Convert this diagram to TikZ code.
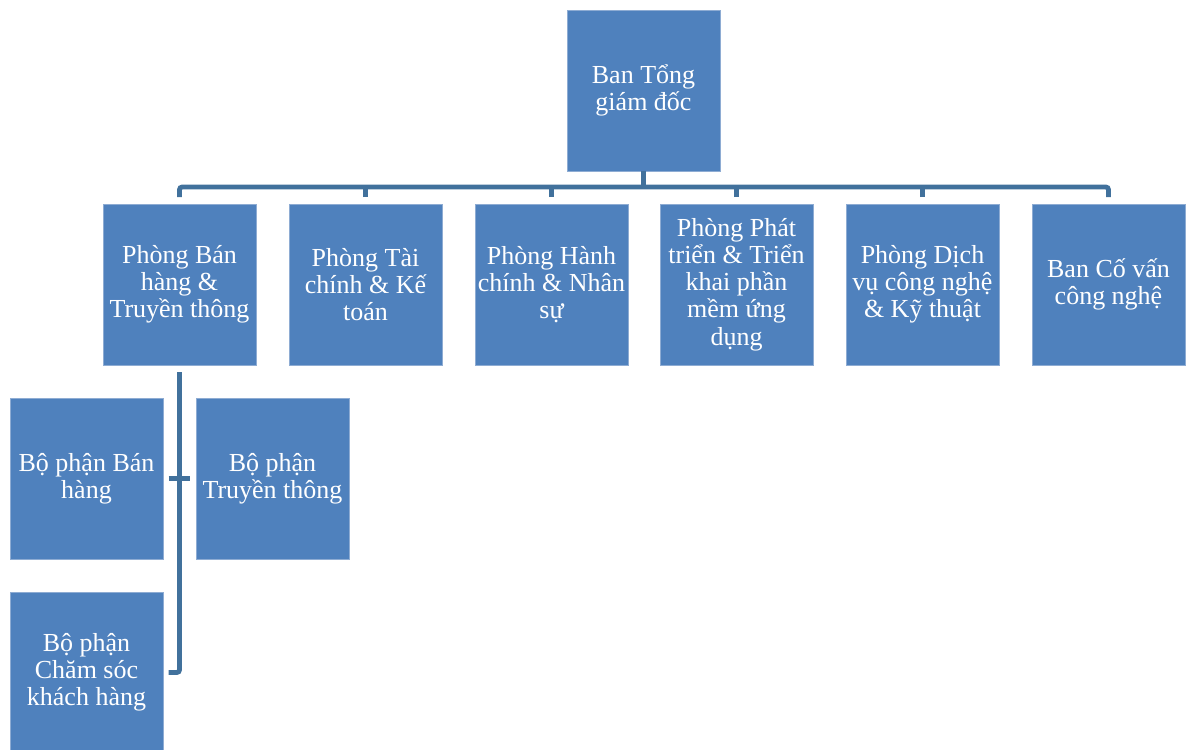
\documentclass[tikz,border=0pt]{standalone}
\usepackage{fontspec}
\setmainfont{Liberation Serif}
\usetikzlibrary{positioning, calc}
\definecolor{BoxFill}{HTML}{4F81BD}
\definecolor{BoxLine}{HTML}{8EACD3}
\definecolor{Link}{HTML}{41719C}
\tikzset{
    orgbox/.style={rectangle, fill=BoxFill, draw=BoxLine, line width=0.5pt, text=white, align=center,
        minimum width=114.75pt, minimum height=120.75pt, inner sep=0pt, font=\fontsize{19.5}{20.4}\selectfont},
    link/.style={draw=Link, line width=3.6pt},
}
\begin{document}
\begin{tikzpicture}[x=0.75pt, y=-0.75pt]
    \useasboundingbox (0,0) rectangle (1187,749);

    % Ban lanh dao
    \node[orgbox] (ceo) at (643.5,90.5) {Ban Tổng\\giám đốc};

    % Cac phong ban
    \node[orgbox] (sales) at (179.5,284.5) {Phòng Bán\\hàng \&\\Truyền thông};
    \node[orgbox] (finance) at (365.5,284.5) {Phòng Tài\\chính \& Kế\\toán};
    \node[orgbox] (admin) at (551.5,284.5) {Phòng Hành\\chính \& Nhân\\sự};
    \node[orgbox] (dev) at (736.5,284.5) {Phòng Phát\\triển \& Triển\\khai phần\\mềm ứng\\dụng};
    \node[orgbox] (tech) at (922.5,284.5) {Phòng Dịch\\vụ công nghệ\\\& Kỹ thuật};
    \node[orgbox] (advisor) at (1108.5,284.5) {Ban Cố vấn\\công nghệ};

    % Bo phan truc thuoc
    \node[orgbox] (sell) at (86.5,478.5) {Bộ phận Bán\\hàng};
    \node[orgbox] (media) at (272.5,478.5) {Bộ phận\\Truyền thông};
    \node[orgbox] (care) at (86.5,672.5) {Bộ phận\\Chăm sóc\\khách hàng};

    % Duong noi
    \coordinate (bus) at (643.5,187);
    \draw[link] (ceo.south) -- (bus);
    \draw[link, rounded corners=2pt, shorten <=5pt] (sales.north) |- (bus) -| ([yshift=5pt]advisor.north);
    \foreach \dept in {finance, admin, dev, tech}
        \draw[link, shorten <=5pt] (\dept.north) -- (\dept.north |- bus);

    \draw[link, rounded corners=2pt, shorten <=5pt, shorten >=4pt] (sales.south) |- (care.east);
    \draw[link, shorten <=4pt, shorten >=4pt] (sell.east) -- (media.west);
\end{tikzpicture}
\end{document}
